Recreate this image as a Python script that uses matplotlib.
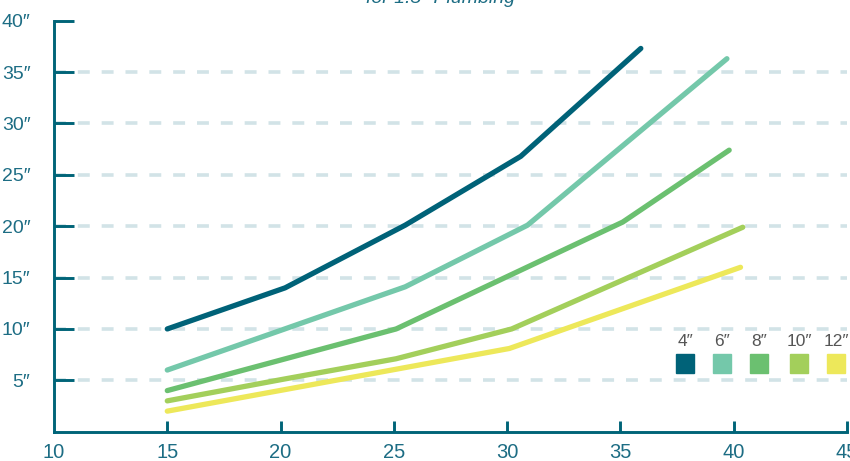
import matplotlib
matplotlib.use("Agg")
import matplotlib.pyplot as plt
from matplotlib import font_manager
from matplotlib.patches import Rectangle

names = {f.name for f in font_manager.fontManager.ttflist}
narrow = "Liberation Sans Narrow" if "Liberation Sans Narrow" in names else "Liberation Sans"
plt.rcParams['font.family'] = [narrow, 'DejaVu Sans']

# ---- data ----
sizes = ['4″', '6″', '8″', '10″', '12″']
colors = ['#006278', '#74c8aa', '#6bc070', '#a3cf5b', '#ede85a']
x_4 = [15, 20.2, 25.5, 30.6, 35.9]
y_4 = [10, 14, 20.1, 26.8, 37.3]
x_6 = [15, 25.5, 30.9, 39.7]
y_6 = [6, 14.1, 20.1, 36.3]
x_8 = [15, 25.1, 35.1, 39.8]
y_8 = [4, 10, 20.4, 27.4]
x_10 = [15, 20.1, 25.1, 30.2, 40.4]
y_10 = [3, 5.1, 7.1, 10, 19.9]
x_12 = [15, 30.1, 40.3]
y_12 = [2, 8.1, 16]
xticks = [10, 15, 20, 25, 30, 35, 40, 45]
yticks = [5, 10, 15, 20, 25, 30, 35, 40]
ytick_labels = ['5″', '10″', '15″', '20″', '25″', '30″', '35″', '40″']
grid_levels = [5, 10, 15, 20, 25, 30, 35]
title = 'for 1.5″ Plumbing'

teal = '#006478'
label_teal = '#1d6d84'

fig = plt.figure(figsize=(8.5, 4.61), dpi=100)
ax = fig.add_axes([54/850, 29.3/461, (847-54)/850, (431.7-20.7)/461])
ax.set_xlim(10, 45)
ax.set_ylim(0, 40)

# grid
ax.hlines(grid_levels, 10, 45, colors='#d2e3e7', linewidth=2.6,
          linestyles=(0, (3.3, 3.3)), zorder=1)

series = [(x_4, y_4), (x_6, y_6), (x_8, y_8), (x_10, y_10), (x_12, y_12)]
for (xs, ys), c in zip(series, colors):
    ax.plot(xs, ys, color=c, linewidth=3.8, solid_capstyle='round',
            solid_joinstyle='round', zorder=3)

for s in ['top', 'right']:
    ax.spines[s].set_visible(False)
for s in ['left', 'bottom']:
    ax.spines[s].set_color(teal)
    ax.spines[s].set_linewidth(2.1)

ax.set_xticks(xticks)
ax.set_xticklabels([str(v) for v in xticks])
ax.set_yticks(yticks)
ax.set_yticklabels(ytick_labels)
ax.tick_params(axis='y', direction='in', length=14.5, width=2.1, color=teal,
               labelsize=14, labelcolor=label_teal, pad=17)
ax.tick_params(axis='x', direction='in', length=8, width=2.1, color=teal,
               labelsize=14.5, labelcolor=label_teal, pad=8)
ax.xaxis.get_major_ticks()[0].tick1line.set_visible(False)

# legend
leg_x = [685, 722, 759, 799, 836]
for lx, lab, c in zip(leg_x, sizes, colors):
    fig.text(lx/850, 1 - 341.5/461, lab, ha='center', va='center',
             fontsize=12.5, color='#555555')
    fig.add_artist(Rectangle(((lx-9)/850, 1 - 373/461), 18/850, 19/461,
                             transform=fig.transFigure, color=c))

fig.text(441/850, 1 - 3/461, title, ha='center', va='baseline',
         fontsize=14, style='italic', color=label_teal)

fig.savefig('out.png', dpi=100)
